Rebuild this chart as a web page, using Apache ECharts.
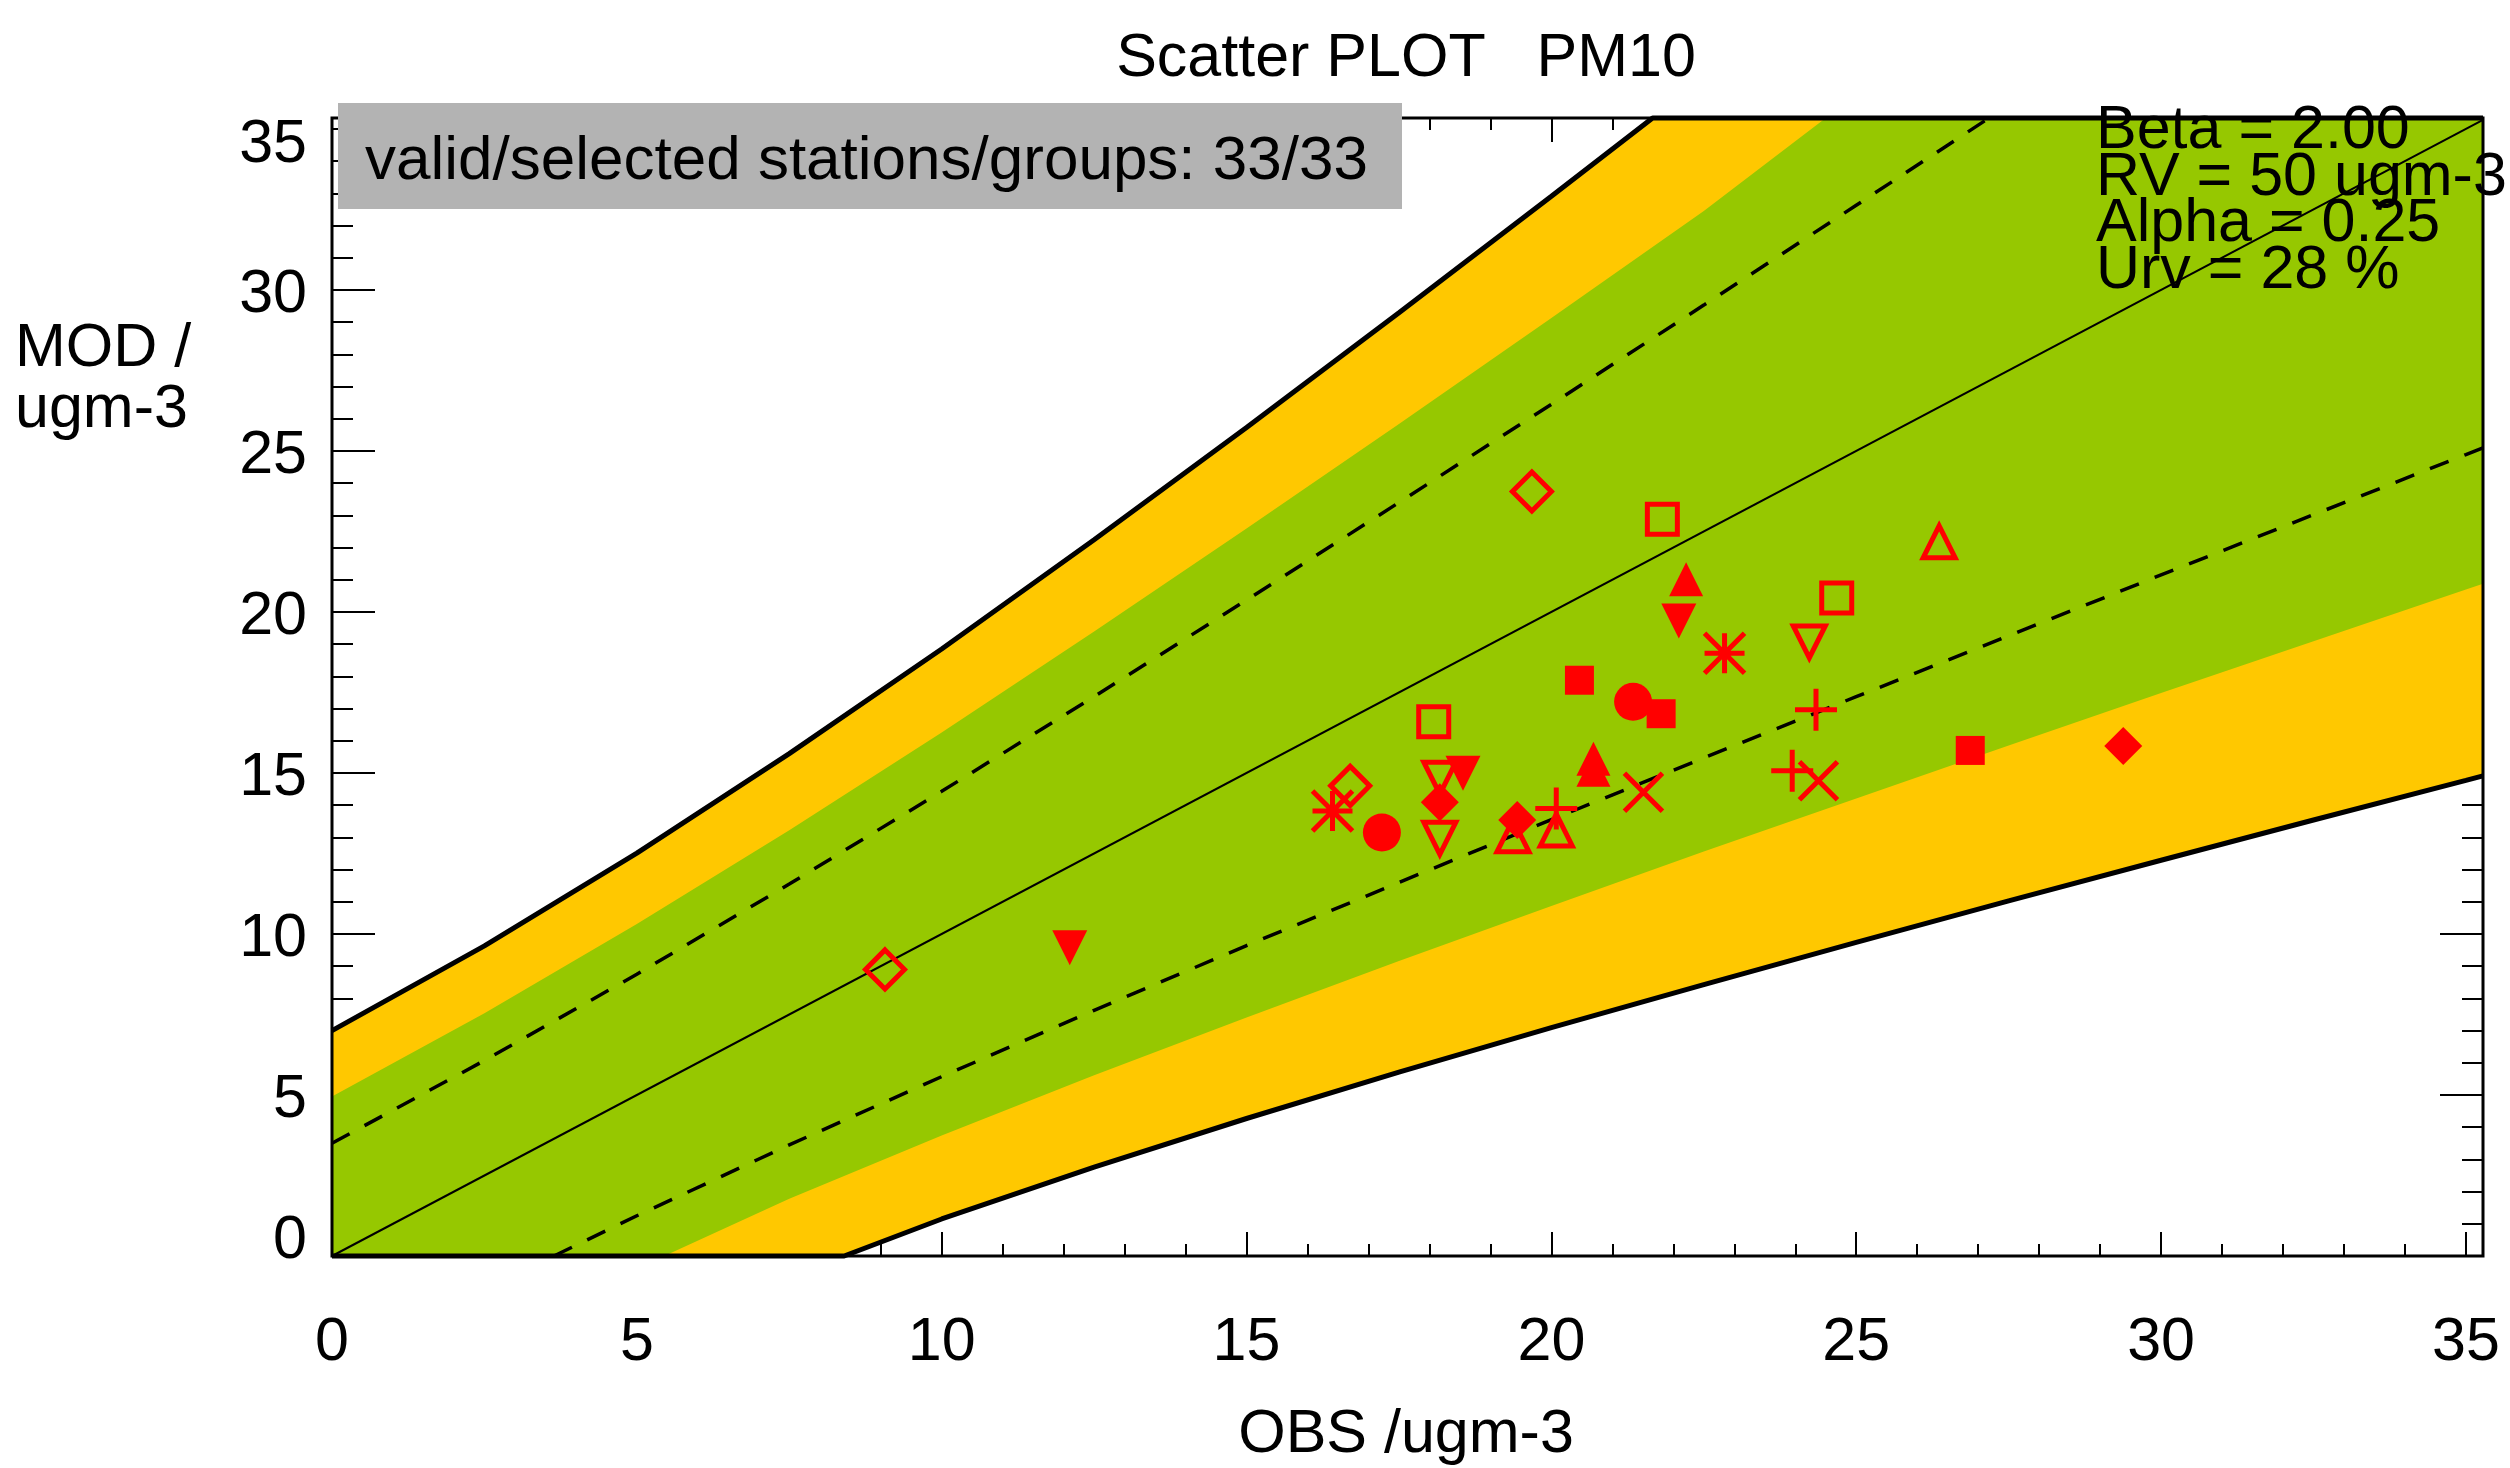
<!DOCTYPE html>
<html>
<head>
<meta charset="utf-8">
<title>Scatter PLOT PM10</title>
<script src="https://cdn.jsdelivr.net/npm/echarts@6/dist/echarts.min.js"></script>
<style>
  html, body { margin: 0; padding: 0; background: #fff; }
  #chart { width: 2510px; height: 1468px; }
</style>
</head>
<body>
<div id="chart"></div>
<script>
// axis extents (it runs a little past 35 on both axes)
const obsMax = 35.28;
const modMax = 35.34;

// band edges (obs, mod)
const outerUpperObs = [0, 2.5, 5, 7.5, 10, 12.5, 15, 17.5, 20, 21.66, 35.28];
const outerUpperMod = [7.0, 9.63, 12.51, 15.6, 18.85, 22.24, 25.73, 29.29, 32.91, 35.34, 35.34];
const outerLowerObs = [0, 8.4, 10, 12.5, 15, 17.5, 20, 22.5, 25, 27.5, 30, 32.5, 35, 35.28];
const outerLowerMod = [0, 0, 1.15, 2.76, 4.27, 5.71, 7.09, 8.43, 9.74, 11.03, 12.29, 13.54, 14.77, 14.91];

const greenUpperObs = [0, 2.5, 5, 7.5, 10, 12.5, 15, 17.5, 20, 22.5, 24.5, 35.28];
const greenUpperMod = [4.95, 7.54, 10.31, 13.22, 16.26, 19.39, 22.59, 25.84, 29.13, 32.45, 35.34, 35.34];
const greenLowerObs = [0, 5.45, 7.5, 10, 12.5, 15, 17.5, 20, 22.5, 25, 27.5, 30, 32.5, 35, 35.28];
const greenLowerMod = [0, 0, 1.78, 3.74, 5.61, 7.41, 9.16, 10.87, 12.56, 14.21, 15.85, 17.48, 19.09, 20.7, 20.88];

const dashUpperObs = [0, 2.5, 5, 7.5, 10, 12.5, 15, 17.5, 20, 22.5, 25, 27.5];
const dashUpperMod = [3.5, 6.07, 8.75, 11.55, 14.43, 17.37, 20.37, 23.4, 26.45, 29.53, 32.63, 35.74];
const dashLowerObs = [3.64, 5, 7.5, 10, 12.5, 15, 17.5, 20, 22.5, 25, 27.5, 30, 32.5, 35, 35.28];
const dashLowerMod = [0, 1.25, 3.45, 5.57, 7.63, 9.64, 11.6, 13.55, 15.47, 17.37, 19.26, 21.15, 23.02, 24.89, 25.1];

const oneToOneObs = [0, 35.28];
const oneToOneMod = [0, 35.28];

// stations, grouped by marker (obs, mod)
const openDiamondPts = [[9.07, 8.9], [16.7, 14.6], [19.68, 23.74]];
const filledDiamondPts = [[18.17, 14.09], [19.44, 13.54], [29.38, 15.84]];
const openSquarePts = [[18.07, 16.59], [21.82, 22.88], [24.68, 20.43]];
const filledSquarePts = [[20.46, 17.88], [21.8, 16.84], [26.87, 15.7]];
const filledCirclePts = [[17.22, 13.15], [21.34, 17.21]];
const openTriUpPts = [[19.37, 13.05], [20.08, 13.23], [26.36, 22.18]];
const filledTriUpPts = [[20.69, 15.44], [20.69, 15.1], [22.21, 21.02]];
const openTriDownPts = [[18.17, 14.84], [18.17, 12.97], [24.23, 19.07]];
const filledTriDownPts = [[12.1, 9.57], [18.55, 14.99], [22.09, 19.72]];
const plusPts = [[20.08, 13.9], [23.95, 15.07], [24.34, 16.96]];
const crossPts = [[21.51, 14.4], [24.38, 14.76]];
const asteriskPts = [[16.41, 13.82], [22.84, 18.72]];

const xTicks = [0, 5, 10, 15, 20, 25, 30, 35];
const yTicks = [0, 5, 10, 15, 20, 25, 30, 35];

const infoLines = ['Beta = 2.00', 'RV = 50 ugm-3', 'Alpha = 0.25', 'Urv = 28 %'];

// layout
const gridLeft = 332, gridTop = 118, gridWidth = 2151, gridHeight = 1138;
const FONT = 'Liberation Sans';
const RED = '#ff0000';

const zip = (xs, ys) => xs.map((x, i) => [x, ys[i]]);

function bandSeries(upObs, upMod, loObs, loMod, color, z) {
  return {
    type: 'custom',
    silent: true,
    z: z,
    data: [[0, 0]],
    renderItem: function (params, api) {
      const pts = [];
      for (let i = 0; i < upObs.length; i++) pts.push(api.coord([upObs[i], upMod[i]]));
      for (let i = loObs.length - 1; i >= 0; i--) pts.push(api.coord([loObs[i], loMod[i]]));
      return { type: 'polygon', shape: { points: pts }, style: { fill: color } };
    }
  };
}

function lineSeries(obs, mod, width, dash, clip) {
  return {
    type: 'line',
    data: zip(obs, mod),
    symbol: 'none',
    silent: true,
    clip: clip,
    z: 4,
    lineStyle: { color: '#000', width: width, type: dash || 'solid' }
  };
}

function markerSeries(points, symbol, size, hollow, rotate) {
  return {
    type: 'scatter',
    data: points,
    symbol: symbol,
    symbolSize: size,
    symbolRotate: rotate || 0,
    silent: true,
    z: 6,
    itemStyle: hollow
      ? { color: 'transparent', borderColor: RED, borderWidth: 5, opacity: 1 }
      : { color: RED, opacity: 1 }
  };
}

function tickAxis(position, max, step, len, extra) {
  return Object.assign({
    type: 'value',
    position: position,
    min: 0,
    max: max,
    interval: step,
    axisLine: { show: false, onZero: false },
    axisTick: { show: true, inside: true, length: len, lineStyle: { color: '#000', width: 2 } },
    splitLine: { show: false },
    axisLabel: { show: false }
  }, extra || {});
}

const labelStyle = { fontSize: 61, fontFamily: FONT, color: '#000' };

const xAxis = [
  tickAxis('bottom', obsMax, 5, 24, {
    axisLabel: Object.assign({
      show: true,
      margin: 57,
      formatter: v => (xTicks.indexOf(v) >= 0 ? String(v) : '')
    }, labelStyle)
  }),
  tickAxis('bottom', obsMax, 1, 12),
  tickAxis('top', obsMax, 5, 24),
  tickAxis('top', obsMax, 1, 12)
];

const yAxis = [
  tickAxis('left', modMax, 5, 43, {
    axisLabel: Object.assign({
      show: true,
      margin: 25,
      formatter: function (v) {
        if (yTicks.indexOf(v) < 0) return '';
        if (v === 0) return '{lo|0}';
        if (v === 35) return '{hi|35}';
        return '{n|' + v + '}';
      },
      rich: {
        n: Object.assign({ padding: [10, 0, 0, 0] }, labelStyle),
        hi: Object.assign({ padding: [32, 0, 0, 0] }, labelStyle),
        lo: Object.assign({ padding: [0, 0, 30, 0] }, labelStyle)
      }
    }, labelStyle)
  }),
  tickAxis('left', modMax, 1, 21),
  tickAxis('right', modMax, 5, 43),
  tickAxis('right', modMax, 1, 21)
];

function txt(text, x, y, align, size) {
  return {
    type: 'text',
    x: x,
    y: y,
    z: 120,
    silent: true,
    style: { text: text, fontSize: size || 61, fontFamily: FONT, fill: '#000', align: align, verticalAlign: 'middle' }
  };
}

const graphic = [
  {
    type: 'rect', z: 100, silent: true,
    shape: { x: gridLeft, y: gridTop, width: gridWidth, height: gridHeight },
    style: { fill: 'none', stroke: '#000', lineWidth: 3 }
  },
  {
    type: 'rect', z: 110, silent: true,
    shape: { x: 338, y: 103, width: 1064, height: 106 },
    style: { fill: '#b3b3b3' }
  },
  txt('valid/selected stations/groups: 33/33', 365, 162, 'left', 62),
  txt('Scatter PLOT   PM10', 1406, 59, 'center'),
  txt('OBS /ugm-3', 1406, 1435, 'center'),
  txt('MOD /', 15, 349, 'left'),
  txt('ugm-3', 15, 410, 'left')
];
infoLines.forEach((t, i) => graphic.push(txt(t, 2096, 131 + i * 46.7, 'left')));

const option = {
  backgroundColor: '#fff',
  animation: false,
  grid: { left: gridLeft, top: gridTop, width: gridWidth, height: gridHeight, containLabel: false },
  xAxis: xAxis,
  yAxis: yAxis,
  graphic: graphic,
  series: [
    bandSeries(outerUpperObs, outerUpperMod, outerLowerObs, outerLowerMod, '#ffc800', 2),
    bandSeries(greenUpperObs, greenUpperMod, greenLowerObs, greenLowerMod, '#96c800', 3),
    lineSeries(oneToOneObs, oneToOneMod, 2, 'solid', true),
    lineSeries(dashUpperObs, dashUpperMod, 3.5, [20, 17], true),
    lineSeries(dashLowerObs, dashLowerMod, 3.5, [20, 17], true),
    lineSeries(outerUpperObs, outerUpperMod, 5, 'solid', false),
    lineSeries(outerLowerObs, outerLowerMod, 5, 'solid', false),
    markerSeries(openDiamondPts, 'diamond', 39, true),
    markerSeries(filledDiamondPts, 'diamond', 38, false),
    markerSeries(openSquarePts, 'rect', 30, true),
    markerSeries(filledSquarePts, 'rect', 29, false),
    markerSeries(filledCirclePts, 'circle', 38, false),
    markerSeries(openTriUpPts, 'triangle', [32, 32], true),
    markerSeries(filledTriUpPts, 'triangle', 34, false),
    markerSeries(openTriDownPts, 'triangle', [32, 32], true, 180),
    markerSeries(filledTriDownPts, 'triangle', 35, false, 180),
    markerSeries(plusPts, 'path://M5,0L5,10M0,5L10,5', 42, true),
    markerSeries(crossPts, 'path://M0,0L10,10M0,10L10,0', 38, true),
    markerSeries(asteriskPts, 'path://M5,0L5,10M0,5L10,5M0,0L10,10M0,10L10,0', 40, true)
  ]
};

const chart = echarts.init(document.getElementById('chart'), null, { renderer: 'canvas' });
chart.setOption(option);
</script>
</body>
</html>
